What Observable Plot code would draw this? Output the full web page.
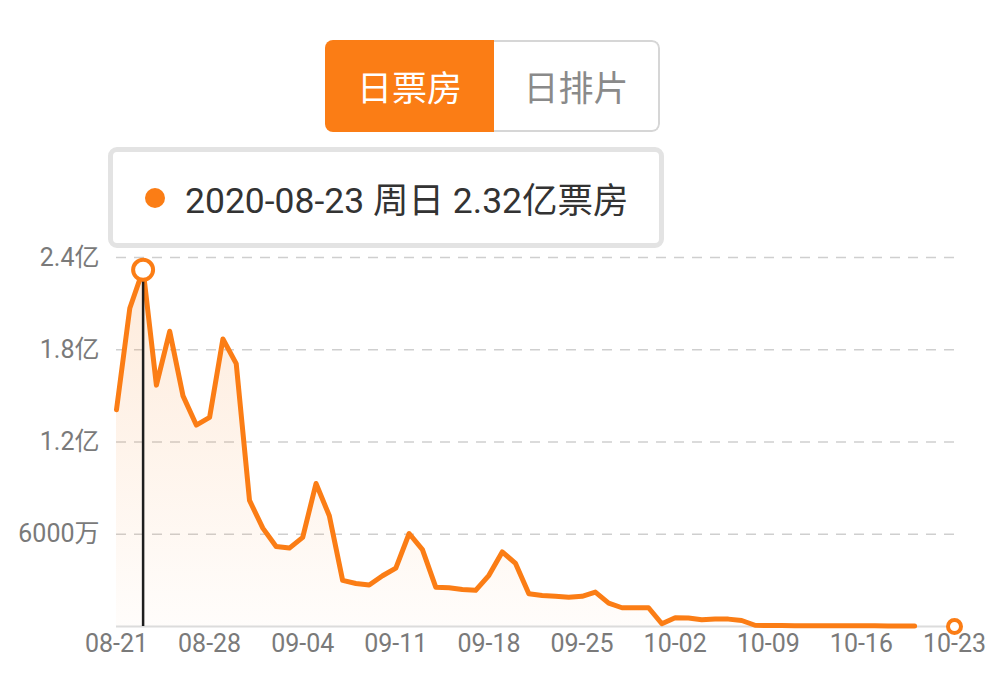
<!DOCTYPE html>
<html>
<head>
<meta charset="utf-8">
<script src="https://cdn.jsdelivr.net/npm/d3@7"></script>
<script src="https://cdn.jsdelivr.net/npm/@observablehq/plot@0.6"></script>
<style>
  html, body { margin: 0; padding: 0; background: #fff; }
  #wrap { position: relative; width: 1000px; height: 683px; overflow: hidden; font-family: Roboto, "Noto Sans CJK SC", sans-serif; }
  #chart { position: absolute; left: 0; top: 0; }
  .btns { position: absolute; left: 325px; top: 40px; width: 335px; height: 92px; display: flex; border-radius: 8px; overflow: hidden; box-sizing: border-box; }
  .btn { display: flex; align-items: center; justify-content: center; font-size: 35px; box-sizing: border-box; padding-bottom: 2px; }
  .btn.on { width: 169px; background: #fb7d15; color: #fff; }
  .btn.off { flex: 1; background: #fff; color: #8a8a8a; border: 2px solid #d6d6d6; border-left: none; border-radius: 0 8px 8px 0; }
  .tip { position: absolute; left: 108px; top: 147px; width: 556px; height: 101px; box-sizing: border-box; border: 5px solid #e3e3e3; border-radius: 9px; background: #fff; display: flex; align-items: center; font-size: 35.5px; color: #333; }
  .tip .dot { width: 20px; height: 20px; border-radius: 50%; background: #fb7d15; margin-left: 32px; margin-right: 20px; }
</style>
</head>
<body>
<div id="wrap">
  <div id="chart"></div>
  <div class="btns"><div class="btn on" id="b1"></div><div class="btn off" id="b2"></div></div>
  <div class="tip"><div class="dot"></div><span id="tiptext"></span></div>
</div>
<script>
// ---- data ----
const year = "2020";
const dates = ["08-21","08-22","08-23","08-24","08-25","08-26","08-27","08-28","08-29","08-30",
  "08-31","09-01","09-02","09-03","09-04","09-05","09-06","09-07","09-08","09-09",
  "09-10","09-11","09-12","09-13","09-14","09-15","09-16","09-17","09-18","09-19",
  "09-20","09-21","09-22","09-23","09-24","09-25","09-26","09-27","09-28","09-29",
  "09-30","10-01","10-02","10-03","10-04","10-05","10-06","10-07","10-08","10-09",
  "10-10","10-11","10-12","10-13","10-14","10-15","10-16","10-17","10-18","10-19","10-20"];
// daily box office, unit: 亿
const boxOffice = [1.41,2.07,2.32,1.57,1.92,1.50,1.31,1.36,1.87,1.71,
  0.82,0.64,0.52,0.51,0.58,0.93,0.72,0.30,0.28,0.27,
  0.33,0.38,0.605,0.50,0.256,0.252,0.24,0.235,0.333,0.485,
  0.41,0.213,0.202,0.196,0.191,0.196,0.224,0.152,0.122,0.122,
  0.122,0.018,0.057,0.055,0.044,0.048,0.048,0.039,0.008,0.006,
  0.006,0.005,0.005,0.005,0.005,0.005,0.005,0.005,0.004,0.004,0.004];
const xTickLabels = ["08-21","08-28","09-04","09-11","09-18","09-25","10-02","10-09","10-16","10-23"];
const yTickValues = [0.6, 1.2, 1.8, 2.4];
const yTickLabels = ["6000万","1.2亿","1.8亿","2.4亿"];
const xStart = "08-21", xEnd = "10-23";
const highlightDate = "08-23";
const endMarkerDate = "10-23";
const buttonLabels = ["日票房","日排片"];
const tooltipText = "2020-08-23 周日 2.32亿票房";

// ---- build ----
const parse = d3.utcParse("%Y-%m-%d");
const toDate = s => parse(year + "-" + s);
const data = dates.map((d, i) => ({date: toDate(d), value: boxOffice[i]}));
const peak = data.find(d => +d.date === +toDate(highlightDate));
const endPt = [{date: toDate(endMarkerDate), value: 0}];
const orange = "#fb7d15";

document.getElementById("b1").textContent = buttonLabels[0];
document.getElementById("b2").textContent = buttonLabels[1];
document.getElementById("tiptext").textContent = tooltipText;

const svg = Plot.plot({
  width: 1000,
  height: 683,
  marginLeft: 116,
  marginRight: 46,
  marginTop: 257,
  marginBottom: 57,
  style: {fontFamily: "Roboto, 'Noto Sans CJK SC', sans-serif", fontSize: "25px", color: "#7a7a7a", background: "transparent"},
  x: {type: "utc", domain: [toDate(xStart), toDate(xEnd)]},
  y: {domain: [0, 2.4]},
  marks: [
    Plot.gridY(yTickValues, {stroke: "#cfcfcf", strokeOpacity: 1, strokeWidth: 1.5, strokeDasharray: "10,8"}),
    Plot.areaY(data, {x: "date", y: "value", fill: "url(#areaGrad)"}),
    Plot.ruleY([0], {stroke: "#dcdcdc", strokeWidth: 2}),
    Plot.lineY(data, {x: "date", y: "value", stroke: orange, strokeWidth: 5, strokeLinejoin: "round", strokeLinecap: "round"}),
    Plot.ruleX([peak], {x: "date", y1: 0, y2: "value", stroke: "#1e1e1e", strokeWidth: 2.5}),
    Plot.dot([peak], {x: "date", y: "value", r: 10, fill: "white", stroke: orange, strokeWidth: 4}),
    Plot.dot(endPt, {x: "date", y: "value", r: 6.5, fill: "white", stroke: orange, strokeWidth: 4}),
    Plot.axisX({ticks: xTickLabels.map(toDate), tickFormat: d3.utcFormat("%m-%d"), tickSize: 0, tickPadding: 8, label: null, fill: "#7a7a7a"}),
    Plot.axisY({ticks: yTickValues, tickFormat: d => yTickLabels[yTickValues.indexOf(d)], tickSize: 0, tickPadding: 17, label: null, fill: "#7a7a7a"})
  ]
});

const defs = d3.select(svg).insert("defs", ":first-child");
const grad = defs.append("linearGradient").attr("id", "areaGrad")
  .attr("x1", 0).attr("y1", 0).attr("x2", 0).attr("y2", 1);
grad.append("stop").attr("offset", "0%").attr("stop-color", "#f9892a").attr("stop-opacity", 0.17);
grad.append("stop").attr("offset", "100%").attr("stop-color", "#f9892a").attr("stop-opacity", 0.02);

document.getElementById("chart").appendChild(svg);
</script>
</body>
</html>
